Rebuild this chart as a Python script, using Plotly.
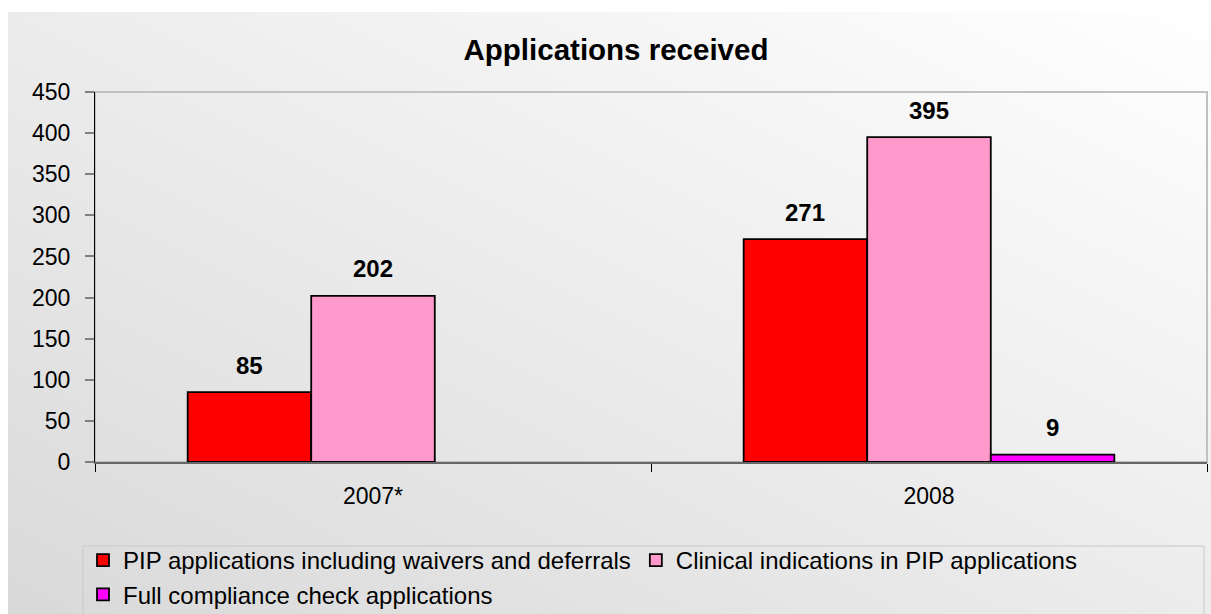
import base64
import plotly.graph_objects as go

# ---- data ----
categories = ["2007*", "2008"]
series_names = [
    "PIP applications including waivers and deferrals",
    "Clinical indications in PIP applications",
    "Full compliance check applications",
]
pip_applications = [85, 271]
clinical_indications = [202, 395]
full_compliance = [None, 9]
series_values = [pip_applications, clinical_indications, full_compliance]
series_colors = ["#FF0000", "#FF99CC", "#FF00FF"]
y_tick_values = [0, 50, 100, 150, 200, 250, 300, 350, 400, 450]

# ---- layout geometry ----
W, H = 1211, 614
ML, MR, MT, MB = 95, 4, 92, 152
PW, PH = W - ML - MR, H - MT - MB
BARGAP = 1 / 3
FONT = "Liberation Sans, Arial, sans-serif"

fig = go.Figure()
for name, vals, col in zip(series_names, series_values, series_colors):
    fig.add_trace(go.Bar(
        name=name, x=categories, y=vals,
        marker=dict(color=col, line=dict(color="#000000", width=1.8)),
        hoverinfo="x+y+name",
    ))

# value labels above bars (x given as category index)
n_series = len(series_values)
cat_px = PW / len(categories)
bar_px = cat_px * (1 - BARGAP) / n_series
annotations = []
for i, vals in enumerate(series_values):
    for j, v in enumerate(vals):
        if v is None:
            continue
        annotations.append(dict(
            x=j, y=v, xref="x", yref="y", text=f"<b>{v}</b>",
            showarrow=False, xshift=(i - (n_series - 1) / 2) * bar_px,
            yshift=27, yanchor="middle",
            font=dict(family=FONT, size=24, color="#000000"),
        ))

# gradient background (SVG data URI)
svg = (
    '<svg xmlns="http://www.w3.org/2000/svg" width="100" height="100" '
    'preserveAspectRatio="none" viewBox="0 0 100 100">'
    '<defs><linearGradient id="g" x1="0" y1="1" x2="1" y2="0">'
    '<stop offset="0" stop-color="#d9d9d9"/>'
    '<stop offset="1" stop-color="#ffffff"/>'
    '</linearGradient></defs>'
    '<rect width="100" height="100" fill="url(#g)"/></svg>'
)
src = "data:image/svg+xml;base64," + base64.b64encode(svg.encode()).decode()
bg_left, bg_top = 8, 12
fig.add_layout_image(dict(
    source=src, xref="paper", yref="paper",
    x=(bg_left - ML) / PW, y=(H - MB - bg_top) / PH,
    sizex=(W - bg_left) / PW, sizey=(H - bg_top) / PH,
    xanchor="left", yanchor="top", sizing="stretch", layer="below",
))

# plot-area border (top/right gray)
fig.add_shape(type="rect", xref="paper", yref="paper", x0=0, x1=1, y0=0, y1=1,
              line=dict(color="#C0C0C0", width=2), layer="below")
# legend frame spanning the chart width
lg_left, lg_right, lg_top, lg_bottom = 83, 1204, 546, 640
fig.add_shape(type="rect", xref="paper", yref="paper",
              x0=(lg_left - ML) / PW, x1=(lg_right - ML) / PW,
              y0=(H - MB - lg_bottom) / PH, y1=(H - MB - lg_top) / PH,
              line=dict(color="#C8C8C8", width=1), layer="below")

fig.update_layout(
    width=W, height=H,
    margin=dict(l=ML, r=MR, t=MT, b=MB, autoexpand=False),
    paper_bgcolor="#FFFFFF", plot_bgcolor="rgba(0,0,0,0)",
    barmode="group", bargap=BARGAP, bargroupgap=0,
    font=dict(family=FONT, color="#000000"),
    title=dict(text="<b>Applications received</b>", x=616 / W, xref="container",
               xanchor="center", y=1 - 50 / H, yref="container", yanchor="middle",
               font=dict(family=FONT, size=29.5, color="#000000")),
    showlegend=True,
    legend=dict(orientation="h", xref="container", yref="container",
                x=83 / W, y=1 - 538 / H, xanchor="left", yanchor="top",
                borderwidth=0, bgcolor="rgba(0,0,0,0)",
                font=dict(family=FONT, size=24, color="#000000"),
                traceorder="normal"),
    annotations=annotations,
)
fig.update_xaxes(
    type="category", range=[-0.5, len(categories) - 0.5], autorange=False,
    showgrid=False, showline=True, linecolor="#666666", linewidth=2,
    ticks="outside", tickson="boundaries", ticklen=8, tickcolor="#000000", tickwidth=1,
    tickfont=dict(family=FONT, size=23, color="#000000"), ticklabelstandoff=12,
    tickangle=0, zeroline=False, automargin=False,
)
fig.update_yaxes(
    range=[0, 450], autorange=False, tickvals=y_tick_values, showgrid=False, zeroline=False,
    showline=True, linecolor="#000000", linewidth=1,
    ticks="outside", ticklen=9, tickcolor="#808080", tickwidth=2,
    tickfont=dict(family=FONT, size=23, color="#000000"), ticklabelstandoff=10,
    automargin=False,
)

fig.write_html("out.html", config={"displayModeBar": False},
               post_script="document.body.style.margin='0';")
